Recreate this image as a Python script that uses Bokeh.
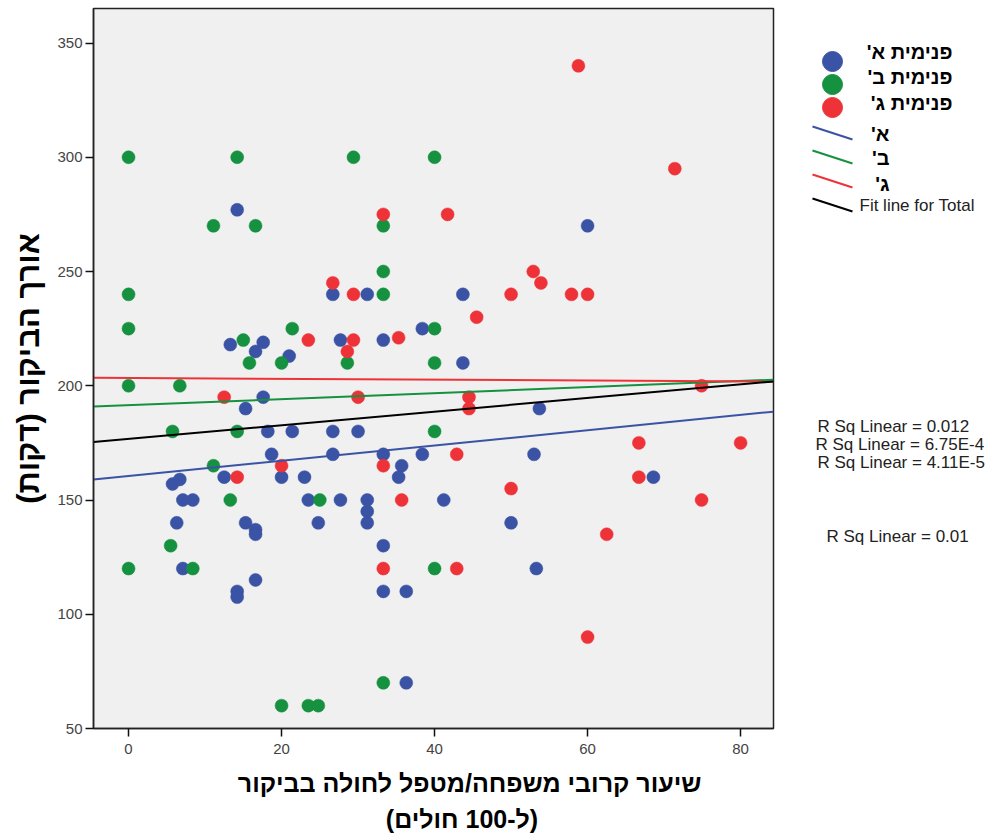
import numpy as np
from bokeh.plotting import figure
from bokeh.layouts import row, column
from bokeh.models import Range1d, FixedTicker
from bokeh.embed import file_html
from bokeh.resources import INLINE
from bokeh.core.properties import value

RLM = "\u200f"

# ---------------- data ----------------
group_names = ["פנימית א'", "פנימית ב'", "פנימית ג'"]
fit_names = ["א'", "ב'", "ג'"]
total_fit_name = "Fit line for Total"
group_colors = ["#3A53A4", "#15913F", "#EE3338"]
total_color = "#000000"

blue_x = [14.2, 13.3, 17.6, 16.6, 21.0, 17.6, 15.3, 18.2, 21.4, 18.7, 12.5, 20.0, 23.0,
          5.75, 6.7, 7.1, 8.4, 23.5, 6.3, 15.3, 16.6, 16.6, 24.8, 7.1, 16.6, 14.2, 14.2,
          26.7, 31.2, 43.7, 38.4, 27.7, 33.3, 43.7, 26.7, 30.0, 26.7, 33.3, 38.4, 53.0,
          35.7, 35.3, 27.7, 31.2, 31.2, 31.2, 41.2, 50.0, 33.3, 53.3, 33.3, 36.3, 36.3,
          60.0, 53.7, 68.6]
blue_y = [277, 218, 219, 215, 213, 195, 190, 180, 180, 170, 160, 160, 160,
          157, 159, 150, 150, 150, 140, 140, 137, 135, 140, 120, 115, 110, 107.5,
          240, 240, 240, 225, 220, 220, 210, 180, 180, 170, 170, 170, 170,
          165, 160, 150, 150, 145, 140, 150, 140, 130, 120, 110, 110, 70,
          270, 190, 160]

green_x = [0, 14.2, 11.1, 16.6, 0, 0, 15.0, 21.4, 15.8, 20.0, 0, 6.7, 5.75, 14.2, 11.1,
           13.3, 25.0, 5.5, 0, 8.4, 20.0, 23.5, 24.8,
           29.4, 40.0, 33.3, 33.3, 33.3, 40.0, 28.6, 40.0, 40.0, 40.0, 33.3]
green_y = [300, 300, 270, 270, 240, 225, 220, 225, 210, 210, 200, 200, 180, 180, 165,
           150, 150, 130, 120, 120, 60, 60, 60,
           300, 300, 270, 250, 240, 225, 210, 210, 180, 120, 70]

red_x = [23.5, 12.5, 14.2, 20.0,
         33.3, 41.7, 26.7, 29.4, 50.0, 52.9, 53.9, 45.5, 29.4, 35.3, 28.6, 30.0, 44.5,
         44.5, 42.9, 33.3, 35.7, 33.3, 42.9, 50.0,
         58.8, 71.4, 57.9, 60.0, 74.9, 66.7, 80.0, 66.7, 74.9, 62.5, 60.0]
red_y = [220, 195, 160, 165,
         275, 275, 245, 240, 240, 250, 245, 230, 220, 221, 215, 195, 195,
         190, 170, 165, 150, 120, 120, 155,
         340, 295, 240, 240, 200, 175, 175, 160, 150, 135, 90]

# linear fits (A, B, C, Total)
fit_intercept = [160.5, 191.5, 203.4, 176.7]
fit_slope = [0.334, 0.132, -0.018, 0.299]
rsq_labels = ["R Sq Linear = 0.012", "R Sq Linear = 6.75E-4",
              "R Sq Linear = 4.11E-5", "R Sq Linear = 0.01"]

x_ticks = [0, 20, 40, 60, 80]
y_ticks = [50, 100, 150, 200, 250, 300, 350]
x_title = ["שיעור קרובי משפחה/מטפל לחולה בביקור", "(ל-100 חולים)"]
y_title = "אורך הביקור (דקות)"

# ---------------- main plot ----------------
X0, X1 = -4.58, 84.3
Y0, Y1 = 50, 365.1
FONT = "Liberation Sans"
PAGE_H = 836
MAIN_W, MAIN_H = 783, 768

p = figure(width=MAIN_W, height=MAIN_H, x_range=Range1d(X0, X1), y_range=Range1d(Y0, Y1),
           output_backend="svg", toolbar_location=None,
           min_border_left=93, min_border_right=10, min_border_top=8, min_border_bottom=40)
p.background_fill_color = "#F0F0F0"
p.border_fill_color = "white"
p.outline_line_color = "#222222"
p.outline_line_width = 1.5
p.grid.visible = False

p.xaxis.ticker = FixedTicker(ticks=x_ticks)
p.yaxis.ticker = FixedTicker(ticks=y_ticks)
p.axis.minor_tick_line_color = None
p.axis.major_tick_in = 0
p.axis.major_tick_out = 8
p.axis.major_tick_line_color = "#111111"
p.axis.major_tick_line_width = 1.5
p.axis.axis_line_color = "#222222"
p.axis.axis_line_width = 1.5
p.axis.major_label_text_font = FONT
p.axis.major_label_text_font_size = "15px"
p.axis.major_label_text_color = "#444444"
p.xaxis.major_label_standoff = 7
p.yaxis.major_label_standoff = 3

p.yaxis.axis_label = y_title + RLM
p.yaxis.axis_label_text_font = FONT
p.yaxis.axis_label_text_font_style = "bold"
p.yaxis.axis_label_text_font_size = "31px"
p.yaxis.axis_label_text_color = "black"
p.yaxis.axis_label_standoff = 8

for xs, ys, c in [(blue_x, blue_y, group_colors[0]),
                  (green_x, green_y, group_colors[1]),
                  (red_x, red_y, group_colors[2])]:
    p.scatter(xs, ys, size=13, marker="circle", fill_color=c, line_color=c, line_width=0.5)

line_x = np.array([X0, X1])
line_colors = group_colors + [total_color]
for b0, b1, c in zip(fit_intercept, fit_slope, line_colors):
    p.line(line_x, b0 + b1 * line_x, line_color=c, line_width=2)

# ---------------- x title strip (page coordinates) ----------------
p3 = figure(width=MAIN_W, height=PAGE_H - MAIN_H, x_range=Range1d(0, MAIN_W),
            y_range=Range1d(PAGE_H, MAIN_H), output_backend="svg", toolbar_location=None,
            min_border=0, x_axis_type=None, y_axis_type=None)
p3.outline_line_color = None
p3.grid.visible = False
p3.background_fill_color = "white"
p3.border_fill_color = "white"
p3.text(x=[700, 512], y=[782, 818], text=[t + RLM for t in x_title],
        text_align="right", text_baseline="middle", text_font=value(FONT),
        text_font_style="bold", text_font_size="25px", text_color="black")

# ---------------- legend / statistics panel (page coordinates) ----------------
p2 = figure(width=205, height=PAGE_H, x_range=Range1d(MAIN_W, MAIN_W + 205),
            y_range=Range1d(PAGE_H, 0), output_backend="svg", toolbar_location=None,
            min_border=0, x_axis_type=None, y_axis_type=None)
p2.outline_line_color = None
p2.grid.visible = False
p2.background_fill_color = "white"
p2.border_fill_color = "white"

p2.scatter(x=[832, 832, 832], y=[61, 84, 107], size=20, marker="circle",
           fill_color=group_colors, line_color=group_colors)
p2.text(x=[952, 952, 952], y=[51, 76, 102], text=[n + RLM for n in group_names],
        text_align="right", text_baseline="middle", text_font=value(FONT),
        text_font_style="bold", text_font_size="20px", text_color="black")

p2.segment(x0=[812, 812, 812, 812], y0=[126, 150, 174, 198],
           x1=[852, 852, 852, 852], y1=[139, 163, 187, 211],
           line_color=line_colors, line_width=2)
p2.text(x=[889, 889, 889], y=[133, 157, 183], text=[n + RLM for n in fit_names],
        text_align="right", text_baseline="middle", text_font=value(FONT),
        text_font_style="bold", text_font_size="20px", text_color="black")
p2.text(x=[859], y=[205], text=[total_fit_name], text_align="left", text_baseline="middle",
        text_font=value(FONT), text_font_size="17px", text_color="#222222")

p2.text(x=[817, 815, 817, 826], y=[426, 444, 462, 536], text=rsq_labels,
        text_align="left", text_baseline="alphabetic", text_font=value(FONT),
        text_font_size="17px", text_color="#222222")

layout = row(column(p, p3), p2)
open("out.html", "w").write(file_html(layout, INLINE))
